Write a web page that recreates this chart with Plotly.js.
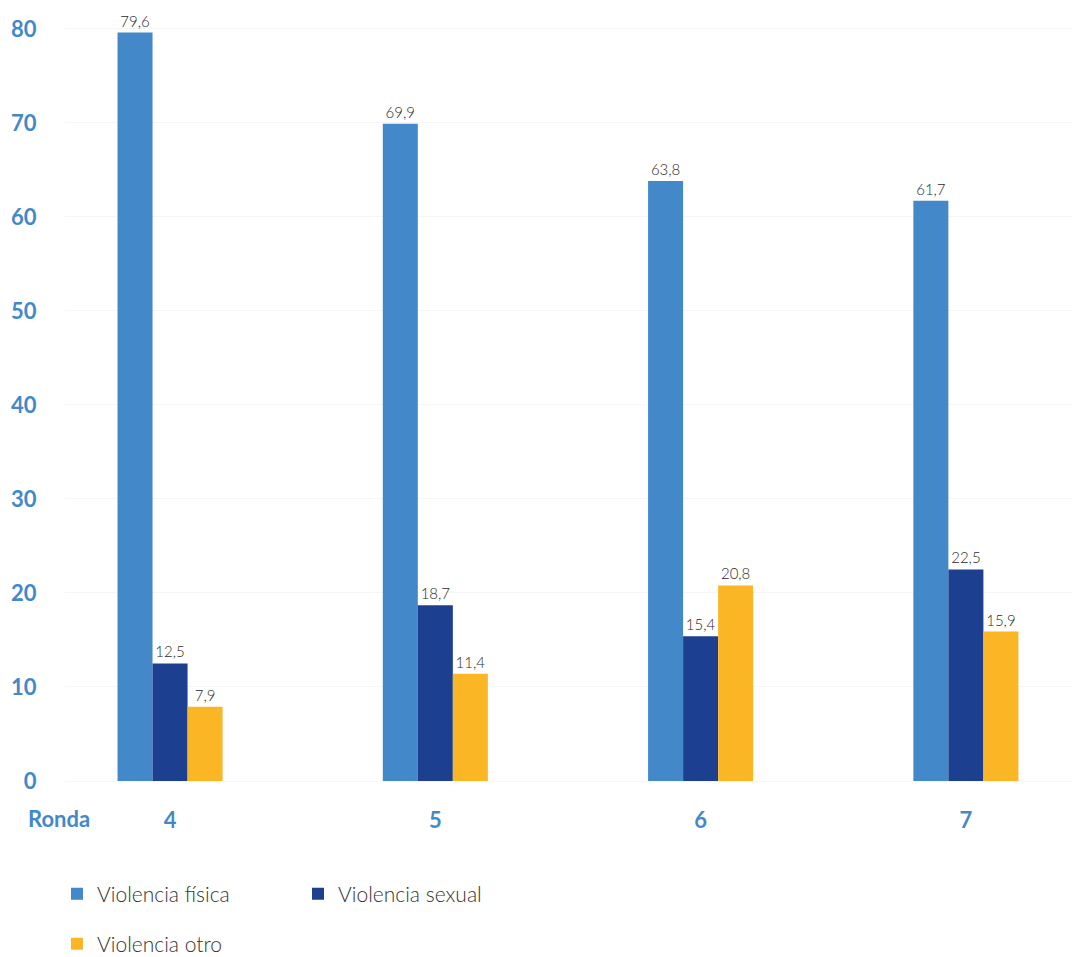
<!DOCTYPE html>
<html>
<head>
<meta charset="utf-8">
<script src="https://cdn.plot.ly/plotly-3.0.1.min.js"></script>
<style>html,body{margin:0;padding:0;background:#fff;}#chart{width:1072px;height:957px;}</style>
</head>
<body>
<div id="chart"></div>
<script>
var rondas = ['4', '5', '6', '7'];
var fisica = [79.6, 69.9, 63.8, 61.7];
var sexual = [12.5, 18.7, 15.4, 22.5];
var otro = [7.9, 11.4, 20.8, 15.9];
var seriesNames = ['Violencia física', 'Violencia sexual', 'Violencia otro'];
var yTicks = [0, 10, 20, 30, 40, 50, 60, 70, 80];
var xLabel = 'Ronda';

var colors = ['#4389C9', '#1C3F8F', '#FBB626'];
var labelFont = {family: 'Lato, sans-serif', size: 15, color: '#2a2a2a', weight: 300};

function mk(vals, i, leg) {
  return {
    type: 'bar', x: rondas, y: vals, name: seriesNames[i],
    marker: {color: colors[i]},
    text: vals, texttemplate: '%{y:.1f}', textposition: 'outside',
    textfont: labelFont, cliponaxis: false, legend: leg,
    hoverinfo: 'skip'
  };
}
var data = [mk(fisica, 0, 'legend'), mk(sexual, 1, 'legend'), mk(otro, 2, 'legend2')];

var tickFont = {family: 'Lato, sans-serif', size: 22, color: '#4389C9', weight: 700};
var legFont = {family: 'Lato, sans-serif', size: 21, color: '#333333', weight: 300};

var layout = {
  width: 1072, height: 957,
  margin: {l: 65, r: 0, t: 10, b: 176},
  paper_bgcolor: '#ffffff', plot_bgcolor: '#ffffff',
  separators: ',.',
  barmode: 'group', bargap: 0.604, bargroupgap: 0,
  showlegend: true,
  xaxis: {
    type: 'category', range: [-0.396, 3.40],
    tickfont: tickFont, ticks: 'outside', ticklen: 20, tickcolor: 'rgba(0,0,0,0)',
    showgrid: false, zeroline: false, showline: false, fixedrange: true
  },
  yaxis: {
    range: [0, 82], tickvals: yTicks, tickfont: tickFont,
    ticks: 'outside', ticklen: 23, tickcolor: 'rgba(0,0,0,0)',
    showgrid: true, gridcolor: '#f6f6f6', gridwidth: 1,
    zeroline: true, zerolinecolor: '#f6f6f6', showline: false, fixedrange: true
  },
  legend: {
    orientation: 'h', xref: 'container', yref: 'container',
    x: 57 / 1072, y: 1 - 894 / 957, xanchor: 'left', yanchor: 'middle',
    font: legFont, entrywidth: 196, bgcolor: 'rgba(0,0,0,0)'
  },
  legend2: {
    orientation: 'h', xref: 'container', yref: 'container',
    x: 57 / 1072, y: 1 - 944 / 957, xanchor: 'left', yanchor: 'middle',
    font: legFont, bgcolor: 'rgba(0,0,0,0)'
  },
  annotations: [{
    text: xLabel, xref: 'paper', yref: 'paper', x: 27 / 1007, y: 0,
    xanchor: 'right', yanchor: 'middle', yshift: -37, showarrow: false,
    font: tickFont
  }]
};

Plotly.newPlot('chart', data, layout, {displayModeBar: false, staticPlot: true});
</script>
</body>
</html>
